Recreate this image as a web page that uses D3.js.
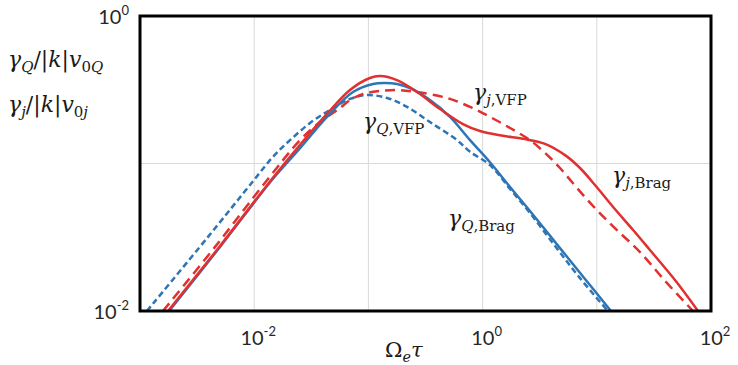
<!DOCTYPE html>
<html>
<head>
<meta charset="utf-8">
<script src="https://cdn.jsdelivr.net/npm/d3@7"></script>
<style>
  body { margin: 0; background: #fff; }
  svg { display: block; }
</style>
</head>
<body>
<svg id="chart" width="738" height="365"></svg>
<script>
// values (x = Omega_e tau, y = growth rate)
var qVfpX = [0.00115, 0.00394, 0.00996, 0.0146, 0.0206, 0.0308, 0.0461, 0.0690, 0.0972, 0.146, 0.218, 0.346, 0.597, 0.776, 1.16, 1.74, 2.60, 4.31, 7.13, 12.5];
var qVfpY = [0.0100, 0.0318, 0.0773, 0.111, 0.144, 0.188, 0.231, 0.274, 0.291, 0.278, 0.242, 0.191, 0.144, 0.120, 0.0977, 0.0672, 0.0462, 0.0276, 0.0167, 0.0100];

var qBragX = [0.00180, 0.00502, 0.0143, 0.0252, 0.0434, 0.0733, 0.110, 0.140, 0.178, 0.231, 0.346, 0.518, 0.776, 1.16, 1.74, 2.60, 4.76, 7.88, 13.3];
var qBragY = [0.0100, 0.0272, 0.0773, 0.127, 0.207, 0.305, 0.346, 0.351, 0.346, 0.325, 0.269, 0.207, 0.144, 0.102, 0.0693, 0.0476, 0.0267, 0.0165, 0.0100];

var jVfpX = [0.00159, 0.00454, 0.0130, 0.0252, 0.0377, 0.0564, 0.0690, 0.0897, 0.126, 0.178, 0.267, 0.488, 0.776, 1.16, 1.74, 2.60, 3.52, 4.76, 6.71, 10.0, 15.0, 23.9, 39.6, 69.6];
var jVfpY = [0.0100, 0.0272, 0.0773, 0.144, 0.191, 0.238, 0.269, 0.296, 0.310, 0.315, 0.305, 0.278, 0.242, 0.207, 0.174, 0.144, 0.118, 0.0932, 0.0682, 0.0484, 0.0354, 0.0251, 0.0160, 0.0100];

var jBragX = [0.00176, 0.00502, 0.0143, 0.0252, 0.0434, 0.0690, 0.103, 0.126, 0.178, 0.267, 0.424, 0.673, 0.949, 1.51, 2.26, 3.52, 5.27, 7.13, 9.64, 13.9, 20.8, 29.2, 48.4, 76.9];
var jBragY = [0.0100, 0.0276, 0.0785, 0.134, 0.217, 0.315, 0.380, 0.392, 0.368, 0.305, 0.234, 0.185, 0.166, 0.154, 0.147, 0.136, 0.114, 0.0932, 0.0715, 0.0507, 0.0354, 0.0259, 0.0162, 0.0100];

var xGrid = [1e-2, 1e-1, 1, 10];
var yGrid = [1e-1];
var xTicks = [1e-2, 1, 1e2];
var xTickExp = ["-2", "0", "2"];
var yTicks = [1, 1e-2];
var yTickExp = ["0", "-2"];

var blue = "#2e75b6";
var red = "#e0302f";

var svg = d3.select("#chart");

// plot box (don't call it "top", that's window.top)
var pLeft = 140, pRight = 711, pTop = 16, pBottom = 311;

var x = d3.scaleLog().domain([1e-3, 1e2]).range([pLeft, pRight]);
var y = d3.scaleLog().domain([1e-2, 1]).range([pBottom, pTop]);

// gridlines
svg.append("g").selectAll("line")
    .data(xGrid)
    .enter()
    .append("line")
    .attr("x1", function(d) { return x(d); })
    .attr("x2", function(d) { return x(d); })
    .attr("y1", pTop)
    .attr("y2", pBottom)
    .attr("stroke", "#d9d9d9")
    .attr("stroke-width", 1);

svg.append("g").selectAll("line")
    .data(yGrid)
    .enter()
    .append("line")
    .attr("x1", pLeft)
    .attr("x2", pRight)
    .attr("y1", function(d) { return y(d); })
    .attr("y2", function(d) { return y(d); })
    .attr("stroke", "#d9d9d9")
    .attr("stroke-width", 1);

svg.append("clipPath").attr("id", "clip")
    .append("rect")
    .attr("x", pLeft).attr("y", pTop)
    .attr("width", pRight - pLeft).attr("height", pBottom - pTop);

var line = d3.line()
    .x(function(d) { return x(d[0]); })
    .y(function(d) { return y(d[1]); })
    .curve(d3.curveCatmullRom.alpha(0.5));

var series = [
    {xs: qVfpX, ys: qVfpY, color: blue, dash: "6,3.5"},
    {xs: jVfpX, ys: jVfpY, color: red, dash: "10,6"},
    {xs: qBragX, ys: qBragY, color: blue, dash: null},
    {xs: jBragX, ys: jBragY, color: red, dash: null}
];

svg.append("g").attr("clip-path", "url(#clip)")
    .selectAll("path")
    .data(series)
    .enter()
    .append("path")
    .attr("d", function(s) { return line(d3.zip(s.xs, s.ys)); })
    .attr("fill", "none")
    .attr("stroke", function(s) { return s.color; })
    .attr("stroke-width", 2.5)
    .attr("stroke-dasharray", function(s) { return s.dash; });

// frame
svg.append("rect")
    .attr("x", pLeft).attr("y", pTop)
    .attr("width", pRight - pLeft).attr("height", pBottom - pTop)
    .attr("fill", "none")
    .attr("stroke", "#000")
    .attr("stroke-width", 3);

// tick labels, 10 with superscript exponent
function power(g, px, py, exp, anchor) {
    var t = g.append("text")
        .attr("x", px).attr("y", py)
        .attr("text-anchor", anchor)
        .attr("font-family", "Lato, 'Open Sans', sans-serif")
        .attr("font-size", 20)
        .attr("fill", "#262626");
    t.append("tspan").text("10");
    t.append("tspan").attr("dy", -9).attr("font-size", 13).text(exp);
}

var tl = svg.append("g");
xTicks.forEach(function(d, i) { power(tl, x(d) + 4, 345, xTickExp[i], "middle"); });
yTicks.forEach(function(d, i) { power(tl, 129, y(d) + 8, yTickExp[i], "end"); });

// math-like text: parts = [text, italic, sub]
function mathText(px, py, parts, size) {
    var t = svg.append("text")
        .attr("x", px).attr("y", py)
        .attr("font-family", "'DejaVu Serif', serif")
        .attr("font-size", size)
        .attr("fill", "#1a1a1a");
    var down = false;
    parts.forEach(function(p) {
        var s = t.append("tspan").text(p[0]);
        if (p[1]) s.attr("font-style", "italic");
        if (p[2]) {
            s.attr("font-size", size * 0.68);
            if (!down) { s.attr("dy", size * 0.22); down = true; }
        } else if (down) {
            s.attr("dy", -size * 0.22); down = false;
        }
    });
}

mathText(8, 67, [["γ", 1, 0], ["Q", 1, 1], ["/|", 0, 0], ["k", 1, 0], ["|", 0, 0], ["v", 1, 0], ["0", 0, 1], ["Q", 1, 1]], 22);
mathText(8, 112, [["γ", 1, 0], ["j", 1, 1], ["/|", 0, 0], ["k", 1, 0], ["|", 0, 0], ["v", 1, 0], ["0", 0, 1], ["j", 1, 1]], 22);
mathText(385, 357, [["Ω", 0, 0], ["e", 1, 1], ["τ", 1, 0]], 21);

mathText(473, 100, [["γ", 1, 0], ["j", 1, 1], [",VFP", 0, 1]], 22);
mathText(363, 129, [["γ", 1, 0], ["Q", 1, 1], [",VFP", 0, 1]], 22);
mathText(612, 183, [["γ", 1, 0], ["j", 1, 1], [",Brag", 0, 1]], 22);
mathText(448, 226, [["γ", 1, 0], ["Q", 1, 1], [",Brag", 0, 1]], 22);
</script>
</body>
</html>
